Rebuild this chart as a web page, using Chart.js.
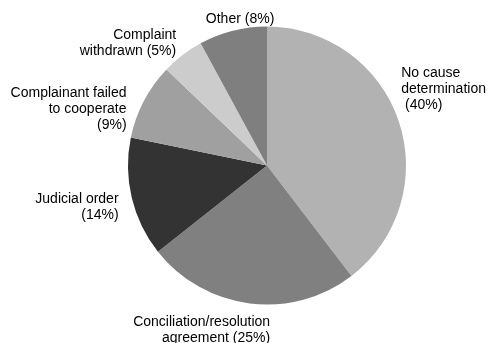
<!DOCTYPE html>
<html>
<head>
<meta charset="utf-8">
<script src="https://cdn.jsdelivr.net/npm/chart.js@4/dist/chart.umd.min.js"></script>
<style>
  html, body { margin: 0; padding: 0; background: #ffffff; }
  #wrap { width: 490px; height: 343px; }
  canvas { display: block; }
</style>
</head>
<body>
<div id="wrap"><canvas id="c" width="490" height="343"></canvas></div>
<script>
// Case closure outcomes (share of closed complaints, %)
const categories = [
  'No cause determination',
  'Conciliation/resolution agreement',
  'Judicial order',
  'Complainant failed to cooperate',
  'Complaint withdrawn',
  'Other'
];
const shares = [40, 25, 14, 9, 5, 8];
const labelLines = [
  ['No cause', 'determination', ' (40%)'],
  ['Conciliation/resolution', 'agreement (25%)'],
  ['Judicial order', '(14%)'],
  ['Complainant failed', 'to cooperate', '(9%)'],
  ['Complaint', 'withdrawn (5%)'],
  ['Other (8%)']
];
const sliceColors = ['#b2b2b2', '#808080', '#333333', '#a0a0a0', '#cccccc', '#7f7f7f'];

// Label placement relative to the outer midpoint of each slice:
// alignment, horizontal shift and shift of the first baseline.
const labelLayout = [
  { align: 'left',   dx: 2.5,   dy: -43.5 },
  { align: 'right',  dx: 20.4,  dy: 22.2 },
  { align: 'right',  dx: -13.2, dy: 5.2 },
  { align: 'right',  dx: -17.3, dy: -4 },
  { align: 'right',  dx: -6.3,  dy: -16.3 },
  { align: 'center', dx: 7.3,   dy: -7.5 }
];

const outsideLabels = {
  id: 'outsideLabels',
  afterDatasetsDraw(chart) {
    const ctx = chart.ctx;
    const meta = chart.getDatasetMeta(0);
    ctx.save();
    ctx.font = '14px "Liberation Sans", Arial, sans-serif';
    ctx.fillStyle = '#000000';
    ctx.textBaseline = 'alphabetic';
    meta.data.forEach((arc, i) => {
      const p = arc.getProps(['x', 'y', 'startAngle', 'endAngle', 'outerRadius'], true);
      const mid = (p.startAngle + p.endAngle) / 2;
      const ax = p.x + Math.cos(mid) * p.outerRadius;
      const ay = p.y + Math.sin(mid) * p.outerRadius;
      const lay = labelLayout[i];
      ctx.textAlign = lay.align;
      labelLines[i].forEach((line, k) => {
        ctx.fillText(line, ax + lay.dx, ay + lay.dy + k * 16);
      });
    });
    ctx.restore();
  }
};

new Chart(document.getElementById('c'), {
  type: 'pie',
  data: {
    labels: categories,
    datasets: [{
      data: shares,
      backgroundColor: sliceColors,
      borderWidth: 0,
      hoverOffset: 0,
      offset: 0
    }]
  },
  options: {
    responsive: false,
    animation: false,
    events: [],
    layout: { padding: { left: 128, right: 84, top: 26.5, bottom: 38.5 } },
    plugins: {
      legend: { display: false },
      tooltip: { enabled: false }
    }
  },
  plugins: [outsideLabels]
});
</script>
</body>
</html>
